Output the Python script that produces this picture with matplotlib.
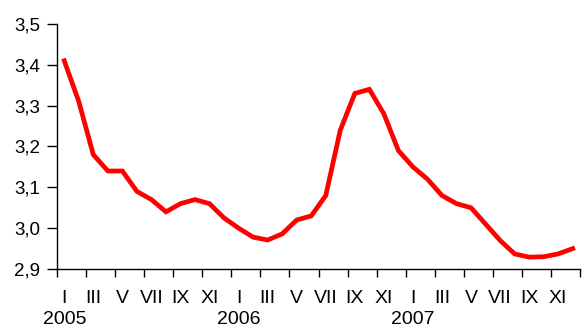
import numpy as np
from matplotlib import pyplot as plt

# monthly values Jan 2005 - Dec 2007
values = [3.41, 3.31, 3.18, 3.14, 3.14, 3.09, 3.07, 3.04, 3.06, 3.07, 3.06, 3.025,
          3.00, 2.978, 2.971, 2.986, 3.02, 3.03, 3.08, 3.24, 3.33, 3.34, 3.28, 3.19,
          3.15, 3.12, 3.08, 3.06, 3.05, 3.01, 2.97, 2.937, 2.929, 2.93, 2.937, 2.95]
month_labels = ['I', 'III', 'V', 'VII', 'IX', 'XI']
years = ['2005', '2006', '2007']
yticks = [2.9, 3.0, 3.1, 3.2, 3.3, 3.4, 3.5]

plt.rcParams['font.family'] = ['Liberation Sans', 'DejaVu Sans']

fig = plt.figure(figsize=(5.84, 3.29), dpi=100)
ax = fig.add_axes([57/584, 1 - 269/329, 523/584, 245/329])

x = np.arange(len(values))
ax.plot(x, values, color='#ff0000', lw=3.4, solid_joinstyle='miter')

ax.set_xlim(-0.5, len(values) - 0.5)
ax.set_ylim(2.9, 3.5)

# ticks between months, labels on odd months
ax.set_xticks(np.arange(-0.5, len(values), 2))
ax.set_xticklabels([])
ax.set_xticks(np.arange(0, len(values), 2), minor=True)
ax.set_xticklabels(month_labels * len(years), minor=True)
ax.tick_params(axis='x', which='major', length=6, width=1, direction='out')
ax.tick_params(axis='x', which='minor', length=0, pad=15, labelsize=14)

ax.set_yticks(yticks)
ax.set_yticklabels([('%.1f' % v).replace('.', ',') for v in yticks])
ax.tick_params(axis='y', length=7, width=1, direction='out', pad=5, labelsize=13.5)

for sp in ['top', 'right']:
    ax.spines[sp].set_visible(False)
for sp in ['left', 'bottom']:
    ax.spines[sp].set_linewidth(1)

# year labels under January, kept just inside the bottom edge
for i, yr in enumerate(years):
    ax.text(i * 12, (269 - 328.5) / 245, yr, transform=ax.get_xaxis_transform(),
            ha='center', va='bottom', fontsize=14)

fig.savefig('out.png', dpi=100)
